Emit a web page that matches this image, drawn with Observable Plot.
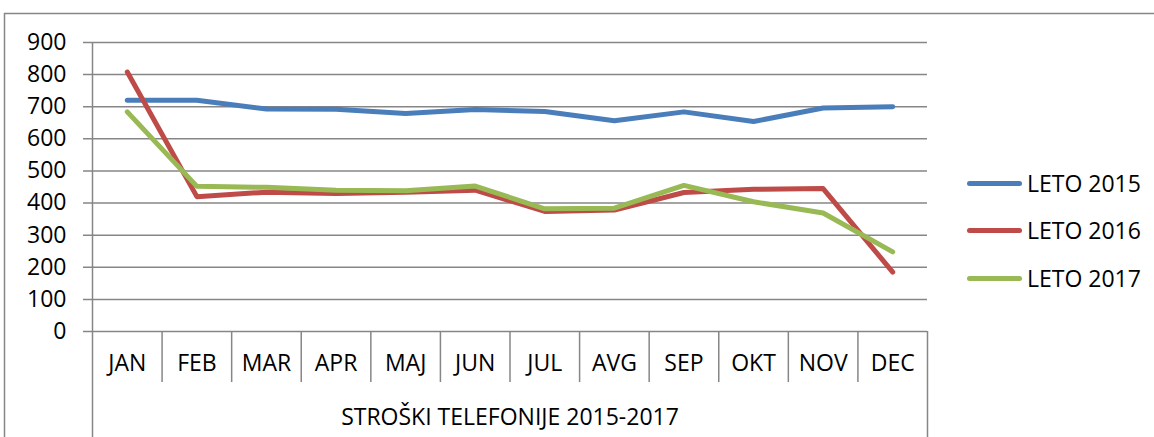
<!DOCTYPE html>
<html><head><meta charset="utf-8">
<script src="https://cdn.jsdelivr.net/npm/d3@7"></script>
<script src="https://cdn.jsdelivr.net/npm/@observablehq/plot@0.6"></script>
<style>
html,body{margin:0;padding:0;background:#fff;}
#wrap{position:relative;width:1154px;height:437px;overflow:hidden;}
#legend{position:absolute;left:967px;top:0;font-family:"Open Sans",sans-serif;font-size:23px;color:#000;}
.item{position:absolute;left:0;display:flex;align-items:center;white-space:nowrap;height:30px;}
.sw{width:55px;height:5px;border-radius:3px;margin-right:5px;}
</style></head><body><div id="wrap"><div id="chart"></div><div id="legend"></div></div>
<script>
const months = ["JAN","FEB","MAR","APR","MAJ","JUN","JUL","AVG","SEP","OKT","NOV","DEC"];
const series = ["LETO 2015","LETO 2016","LETO 2017"];
const leto2015 = [720,720,693,692,679,691,685,656,684,654,696,700];
const leto2016 = [808,420,434,430,434,440,374,378,433,443,445,185];
const leto2017 = [684,452,449,440,438,453,382,384,455,404,369,248];
const yTicks = [0,100,200,300,400,500,600,700,800,900];
const colors = ["#4A7EBB","#BE4B48","#98B954"];
const axisTitle = "STROŠKI TELEFONIJE 2015-2017";

const rows = [];
[leto2015, leto2016, leto2017].forEach((vals, s) =>
  vals.forEach((v, i) => rows.push({series: series[s], i, month: months[i], value: v})));
const bounds = d3.range(months.length + 1).map(k => k - 0.5);
const grid = "#868686";

const chart = Plot.plot({
  width: 1154, height: 437,
  marginLeft: 92, marginRight: 227, marginTop: 42, marginBottom: 106,
  style: {fontFamily: "'Open Sans', sans-serif", fontSize: "23px", color: "#000", background: "transparent", overflow: "visible"},
  x: {type: "linear", domain: [-0.5, months.length - 0.5], axis: null},
  y: {domain: [0, 900], axis: null},
  color: {domain: series, range: colors},
  marks: [
    Plot.frame({insetLeft: -88, insetTop: -29, insetRight: -260, insetBottom: -130, stroke: grid, strokeWidth: 1.5}),
    Plot.ruleY(yTicks, {stroke: grid, strokeWidth: 1.5, insetLeft: -9}),
    Plot.ruleX([bounds[0]], {stroke: grid, strokeWidth: 1.5, insetBottom: -106}),
    Plot.ruleX(bounds.slice(1, -1), {stroke: grid, strokeWidth: 1.5, insetTop: 289, insetBottom: -51}),
    Plot.ruleX([bounds[bounds.length - 1]], {stroke: grid, strokeWidth: 1.5, insetTop: 289, insetBottom: -106}),
    Plot.axisY({ticks: yTicks, tickSize: 0, tickPadding: 26, label: null, fontSize: 23}),
    Plot.text(months, {x: (d, i) => i, text: d => d, frameAnchor: "bottom", dy: 39, fontSize: 23}),
    Plot.text([axisTitle], {text: d => d, frameAnchor: "bottom", dy: 93, fontSize: 23}),
    Plot.line(rows, {x: "i", y: "value", z: "series", stroke: "series", strokeWidth: 5, strokeLinecap: "round", strokeLinejoin: "round"})
  ]
});
document.getElementById("chart").appendChild(chart);

const legend = document.getElementById("legend");
const legendY = [183, 230, 278];
series.forEach((s, k) => {
  const item = document.createElement("div");
  item.className = "item";
  item.style.top = (legendY[k] - 15) + "px";
  const sw = document.createElement("div");
  sw.className = "sw";
  sw.style.background = colors[k];
  const t = document.createElement("span");
  t.textContent = s;
  item.appendChild(sw); item.appendChild(t);
  legend.appendChild(item);
});
</script></body></html>
